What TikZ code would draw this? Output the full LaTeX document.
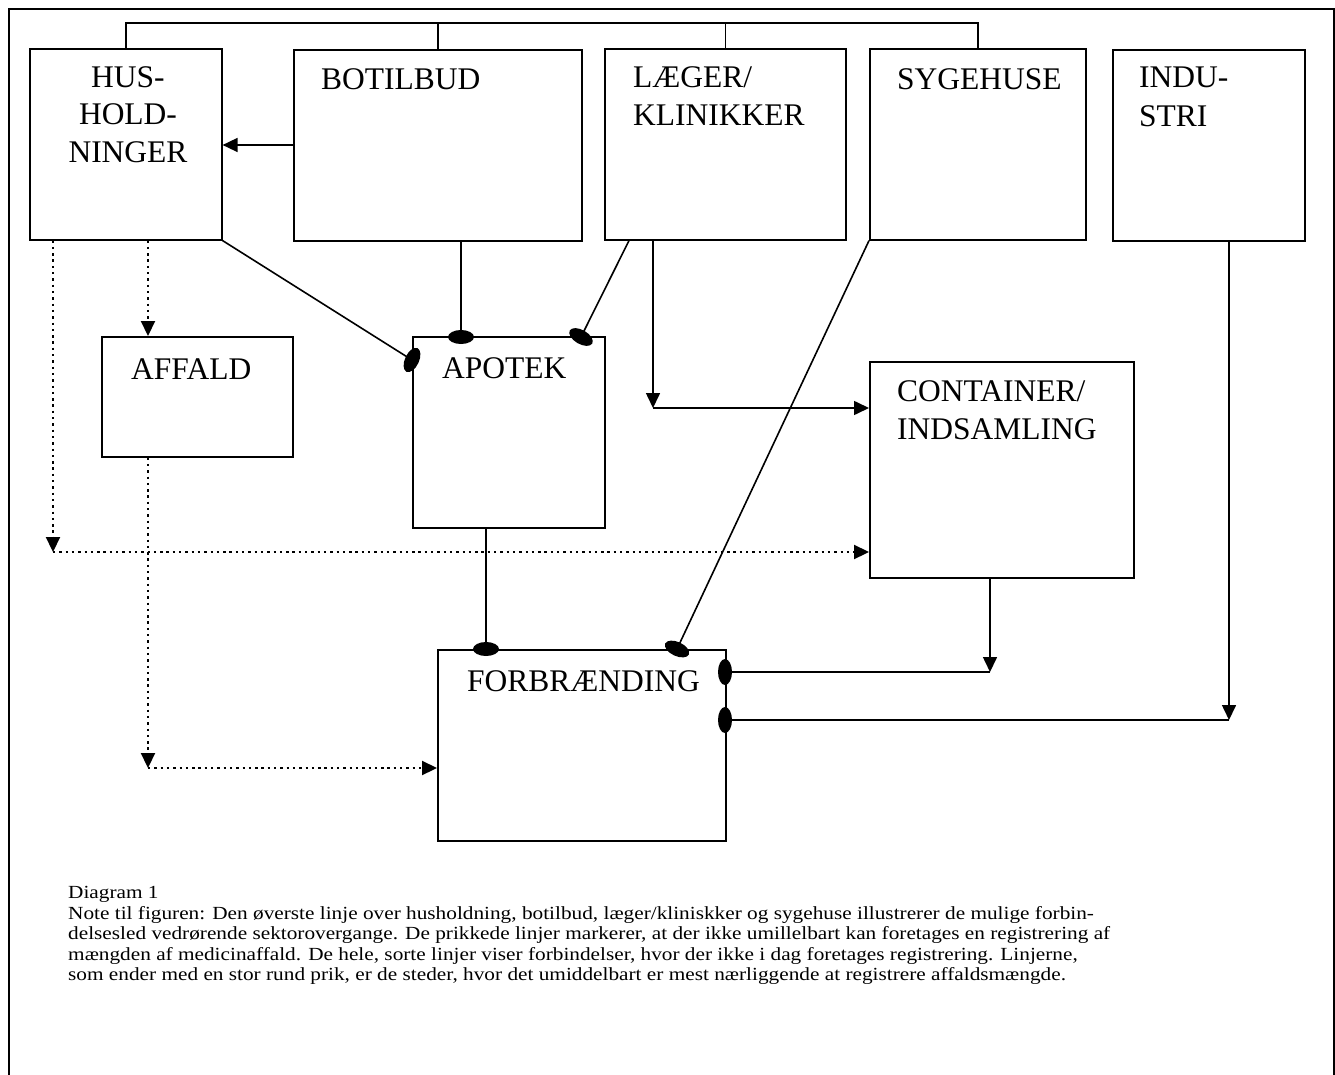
\documentclass[tikz,border=0pt]{standalone}
\usepackage{fontspec}
\setmainfont{Liberation Serif}
\usetikzlibrary{arrows.meta,shapes.geometric}
\newcommand{\notetxt}[1]{\scalebox{1.15}[1]{#1}}
\begin{document}
\begin{tikzpicture}[x=1pt,y=-1pt,
  box/.style={draw, line width=1.6pt, rectangle, inner sep=0pt, anchor=north west},
  lab/.style={inner sep=0pt, anchor=base west, font=\fontsize{31.5}{36}\selectfont},
  labc/.style={lab, anchor=base},
  note/.style={inner sep=0pt, anchor=base west, font=\fontsize{18.5}{20}\selectfont},
  ln/.style={line width=1.6pt},
  arr/.style={ln, -{Triangle[length=15pt,width=14pt]}},
  dotl/.style={line width=2.2pt, dash pattern=on 2.4pt off 3.9pt},
  darr/.style={dotl, -{Triangle[length=15pt,width=14pt]}},
  blob/.style={ellipse, fill=black, inner sep=0pt, minimum width=26pt, minimum height=14pt}]
\useasboundingbox (0,0) rectangle (1335,1075);
% outer frame
\draw[ln] (9,1090) -- (9,9) -- (1334,9) -- (1334,1090);
% boxes
\node[box, minimum width=192pt, minimum height=191pt] (hus) at (29,48) {};
\node[box, minimum width=288pt, minimum height=191pt] (bot) at (293,49) {};
\node[box, minimum width=241pt, minimum height=191pt] (laeg) at (604,48) {};
\node[box, minimum width=216pt, minimum height=191pt] (syg) at (869,48) {};
\node[box, minimum width=192pt, minimum height=191pt] (ind) at (1112,49) {};
\node[box, minimum width=191pt, minimum height=120pt] (aff) at (101,336) {};
\node[box, minimum width=192pt, minimum height=191pt] (apo) at (412,336) {};
\node[box, minimum width=264pt, minimum height=216pt] (cont) at (869,361) {};
\node[box, minimum width=288pt, minimum height=191pt] (forb) at (437,649) {};
% labels
\node[labc] (hus1) at (128,88) {HUS-};
\node[labc] (hus2) at (128,125) {HOLD-};
\node[labc] (hus3) at (128,163) {NINGER};
\node[lab] (botl) at (321,90) {BOTILBUD};
\node[lab] (laeg1) at (633,88) {LÆGER/};
\node[lab] (laeg2) at (633,126) {KLINIKKER};
\node[lab] (sygl) at (897,90) {SYGEHUSE};
\node[lab] (ind1) at (1139,88) {INDU-};
\node[lab] (ind2) at (1139,127) {STRI};
\node[lab] (affl) at (131,379) {AFFALD};
\node[lab] (apol) at (442,378) {APOTEK};
\node[lab] (cont1) at (897,401) {CONTAINER/};
\node[lab] (cont2) at (897,439) {INDSAMLING};
\node[lab] (forbl) at (467,691) {FORBRÆNDING};
% top connecting line
\draw[ln] (hus.north) -- (hus.north |- 0,23) -| (syg.north);
\draw[ln] (bot.north) -- (bot.north |- 0,23);
\draw[ln] (laeg.north) -- (laeg.north |- 0,23);
% botilbud -> husholdninger
\draw[arr] (bot.west |- 0,145) -- (hus.east |- 0,145);
% dotted lines
\coordinate (d1) at (53,552);
\coordinate (d2) at (148,768);
\draw[darr] (hus.south -| d1) -- (d1);
\draw[darr] (d1) -- (cont.west |- d1);
\draw[darr] (hus.south -| d2) -- (aff.north -| d2);
\draw[darr] (aff.south -| d2) -- (d2);
\draw[darr] (d2) -- (forb.west |- d2);
% laeger -> container
\coordinate (c1) at (653,408);
\draw[arr] (laeg.south -| c1) -- (c1);
\draw[arr] (c1) -- (cont.west |- c1);
% blobs
\node[blob, rotate=65] (eh) at (412,360) {};
\node[blob] (eb) at (461,337) {};
\node[blob, rotate=-30] (el) at (581,337) {};
\node[blob] (ea) at (486,649) {};
\node[blob, rotate=-25] (es) at (677,649) {};
\node[blob, rotate=90] (ef1) at (725,672) {};
\node[blob, rotate=90] (ef2) at (725,720) {};
% solid lines to blobs
\draw[ln] (hus.south east) -- (eh.center);
\draw[ln] (bot.south -| eb) -- (eb.center);
\draw[ln] (laeg.south -| 629,0) -- (el.center);
\draw[ln] (apo.south -| ea) -- (ea.center);
\draw[ln] (syg.south west) -- (es.center);
\coordinate (c2) at (990,672);
\coordinate (c3) at (1229,720);
\draw[arr] (cont.south -| c2) -- (c2);
\draw[ln] (c2) -- (ef1.center);
\draw[arr] (ind.south -| c3) -- (c3);
\draw[ln] (c3) -- (ef2.center);
% note
\node[note] (n0) at (68,898) {\notetxt{Diagram 1}};
\node[note] (n1) at (68,919) {\notetxt{Note til figuren: Den øverste linje over husholdning, botilbud, læger/kliniskker og sygehuse illustrerer de mulige forbin-}};
\node[note] (n2) at (68,939) {\notetxt{delsesled vedrørende sektorovergange. De prikkede linjer markerer, at der ikke umillelbart kan foretages en registrering af}};
\node[note] (n3) at (68,960) {\notetxt{mængden af medicinaffald. De hele, sorte linjer viser forbindelser, hvor der ikke i dag foretages registrering. Linjerne,}};
\node[note] (n4) at (68,980) {\notetxt{som ender med en stor rund prik, er de steder, hvor det umiddelbart er mest nærliggende at registrere affaldsmængde.}};
\end{tikzpicture}
\end{document}
